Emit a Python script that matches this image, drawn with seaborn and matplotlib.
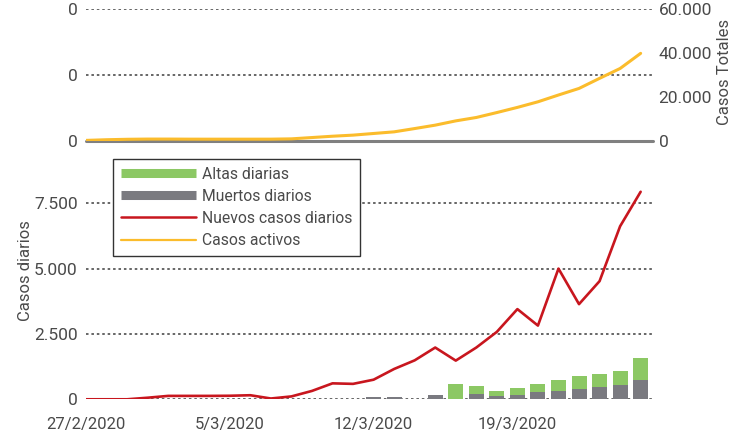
import numpy as np
import pandas as pd
import matplotlib
matplotlib.use("Agg")
import matplotlib.pyplot as plt
import seaborn as sns
from matplotlib.lines import Line2D
from matplotlib.ticker import FuncFormatter

# days from 27/2/2020 to 25/3/2020
dias = pd.date_range("2020-02-27", "2020-03-25", freq="D")
etiquetas = ["27/2/2020", "5/3/2020", "12/3/2020", "19/3/2020"]

nuevos_casos = [0, 0, 0, 60, 130, 130, 130, 135, 155, 30, 110, 320, 610, 590,
                750, 1160, 1490, 1980, 1480, 1980, 2580, 3450, 2820, 5000,
                3640, 4520, 6620, 7940]
casos_activos = [200, 500, 700, 800, 800, 760, 750, 750, 750, 760, 900, 1500,
                 2100, 2600, 3350, 4100, 5600, 7150, 9100, 10650, 12900, 15250,
                 17800, 20900, 23900, 28500, 33000, 39900]
muertos = [0, 0, 0, 0, 0, 0, 0, 0, 0, 0, 0, 0, 0, 0,
           100, 100, 0, 180, 0, 215, 140, 180, 260, 335, 405, 460, 530, 755]
altas = [0, 0, 0, 0, 0, 0, 0, 0, 0, 0, 0, 0, 0, 0,
         0, 0, 0, 0, 600, 280, 180, 235, 310, 390, 475, 490, 545, 810]

df = pd.DataFrame({"dia": np.arange(len(dias)), "nuevos": nuevos_casos,
                   "activos": casos_activos, "muertos": muertos, "altas": altas})
df["total"] = df["muertos"] + df["altas"]

VERDE = "#8cc864"
GRIS = "#7a7a80"
ROJO = "#c8161e"
AMARILLO = "#fbbc2c"
TEXTO = "#4a4a4a"

sns.set_style("white")
plt.rcParams["font.family"] = ["Roboto", "DejaVu Sans"]

miles = FuncFormatter(lambda v, p: f"{int(v):,}".replace(",", "."))
grid_kw = dict(color="#5a5a5a", linestyle=(0, (1.4, 1.6)), linewidth=1.3)
TICK_FS = 12.5

fig = plt.figure(figsize=(7.35, 4.36), dpi=100)
ax_top = fig.add_axes([0.117, 0.677, 0.7714, 0.3017])
ax_bot = fig.add_axes([0.117, 0.0842, 0.7714, 0.5695])
xmax = 27.6

# === top panel: active cases ===
ax_top2 = ax_top.twinx()
sns.lineplot(data=df, x="dia", y="activos", ax=ax_top2, color=AMARILLO,
             linewidth=2.2)
ax_top.set_ylim(0, 60000)
ax_top2.set_ylim(0, 60000)
ax_top.set_yticks([0, 30000, 60000])
ax_top.set_yticklabels(["0", "0", "0"])
ax_top.yaxis.grid(True, **grid_kw)
ax_top2.set_yticks([0, 20000, 40000, 60000])
ax_top2.yaxis.set_major_formatter(miles)
ax_top2.set_ylabel("Casos Totales", color=TEXTO, fontsize=12, rotation=90,
                   va="top")
ax_top2.yaxis.set_label_coords(1.113, 0.52)
for a in (ax_top, ax_top2):
    a.set_xlim(0, xmax)
    a.set_xticks([])
    a.set_xlabel("")
    for s in ("top", "left", "right", "bottom"):
        a.spines[s].set_visible(False)
ax_top.axhline(0, color="#808080", linewidth=2.2, zorder=1, clip_on=False)
ax_top.tick_params(axis="y", length=0, pad=6, labelsize=TICK_FS, labelcolor=TEXTO)
ax_top2.tick_params(axis="y", length=0, pad=4, labelsize=TICK_FS, labelcolor=TEXTO)

# === bottom panel: daily cases ===
sns.barplot(data=df, x="dia", y="total", ax=ax_bot, native_scale=True,
            color=VERDE, width=0.73, errorbar=None, linewidth=0, saturation=1)
sns.barplot(data=df, x="dia", y="muertos", ax=ax_bot, native_scale=True,
            color=GRIS, width=0.73, errorbar=None, linewidth=0, saturation=1)
sns.lineplot(data=df, x="dia", y="nuevos", ax=ax_bot, color=ROJO, linewidth=1.9)
ax_bot.set_xlim(0, xmax)
ax_bot.set_ylim(0, 9500)
ax_bot.set_yticks([0, 2500, 5000, 7500])
ax_bot.yaxis.set_major_formatter(miles)
ax_bot.yaxis.grid(True, **grid_kw)
ax_bot.set_axisbelow(True)
ax_bot.set_xticks([0, 7, 14, 21])
ax_bot.set_xticklabels(etiquetas)
ax_bot.set_xlabel("")
ax_bot.set_ylabel("Casos diarios", color=TEXTO, fontsize=12)
ax_bot.yaxis.set_label_coords(-0.093, 0.52)
for s in ("top", "left", "right", "bottom"):
    ax_bot.spines[s].set_visible(False)
ax_bot.tick_params(axis="y", length=0, pad=6, labelsize=TICK_FS, labelcolor=TEXTO)
ax_bot.tick_params(axis="x", length=0, pad=13, labelsize=12, labelcolor=TEXTO)

# legend
handles = [
    Line2D([], [], color=VERDE, linewidth=6.5, solid_capstyle="butt"),
    Line2D([], [], color=GRIS, linewidth=6.5, solid_capstyle="butt"),
    Line2D([], [], color=ROJO, linewidth=1.8),
    Line2D([], [], color=AMARILLO, linewidth=1.6),
]
labels = ["Altas diarias", "Muertos diarios", "Nuevos casos diarios", "Casos activos"]
leg = fig.legend(handles, labels, loc="upper left",
                 bbox_to_anchor=(113 / 735, 1 - 159 / 436), fontsize=11.3,
                 frameon=True, fancybox=False, framealpha=1, edgecolor="#333333",
                 handlelength=4.8, handletextpad=0.35, labelspacing=0.45,
                 borderpad=0.5, borderaxespad=0)
leg.get_frame().set_linewidth(1.0)
for t in leg.get_texts():
    t.set_color(TEXTO)

fig.savefig("out.png", dpi=100)
